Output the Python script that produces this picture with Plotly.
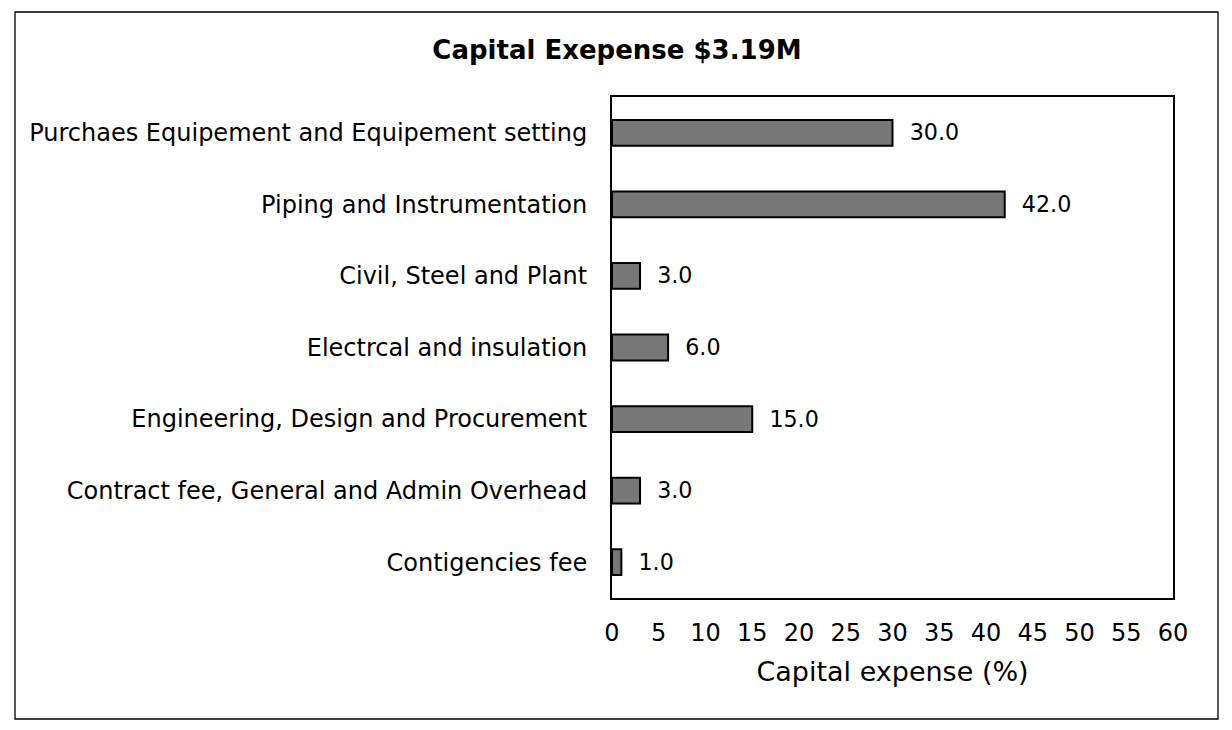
import plotly.graph_objects as go

categories = [
    "Purchaes Equipement and Equipement setting",
    "Piping and Instrumentation",
    "Civil, Steel and Plant",
    "Electrcal and insulation",
    "Engineering, Design and Procurement",
    "Contract fee, General and Admin Overhead",
    "Contigencies fee",
]
values = [30.0, 42.0, 3.0, 6.0, 15.0, 3.0, 1.0]
x_ticks = list(range(0, 61, 5))

FONT = "DejaVu Sans, Verdana, sans-serif"

fig = go.Figure(go.Bar(
    y=categories,
    x=values,
    orientation="h",
    width=0.36,
    marker=dict(color="#777777", line=dict(color="black", width=2)),
    texttemplate="  %{x:.1f}",
    textposition="outside",
    textfont=dict(family=FONT, size=25, color="black"),
    cliponaxis=False,
))

L, R, T, B = 612, 59, 97, 132
W, H = 1232, 730
pw, ph = W - L - R, H - T - B

fig.update_layout(
    width=W, height=H,
    margin=dict(l=L, r=R, t=T, b=B),
    paper_bgcolor="white", plot_bgcolor="white",
    font=dict(family=FONT, color="black"),
    showlegend=False,
    title=dict(text="<b>Capital Exepense $3.19M</b>", xref="container", x=617/W,
               xanchor="center", y=1 - 50/H, yanchor="middle",
               font=dict(family=FONT, size=26, color="black")),
    xaxis=dict(range=[0, 60], tickvals=x_ticks, showgrid=False, zeroline=False,
               showline=True, linecolor="black", linewidth=2, mirror=True,
               ticks="", ticklabelstandoff=12,
               tickfont=dict(family=FONT, size=24, color="black"),
               title=dict(text="Capital expense (%)", standoff=16,
                          font=dict(family=FONT, size=27, color="black"))),
    yaxis=dict(categoryorder="array", categoryarray=categories, autorange="reversed",
               showgrid=False, zeroline=False,
               showline=True, linecolor="black", linewidth=2, mirror=True,
               ticks="", ticklabelstandoff=18,
               tickfont=dict(family=FONT, size=24, color="black")),
    shapes=[dict(type="rect", xref="paper", yref="paper",
                 x0=(15 - L)/pw, x1=(1218 - L)/pw,
                 y0=(H - B - 719)/ph, y1=(H - B - 12)/ph,
                 line=dict(color="black", width=1.3), fillcolor="rgba(0,0,0,0)",
                 layer="below")],
)

fig.write_html("out.html")
